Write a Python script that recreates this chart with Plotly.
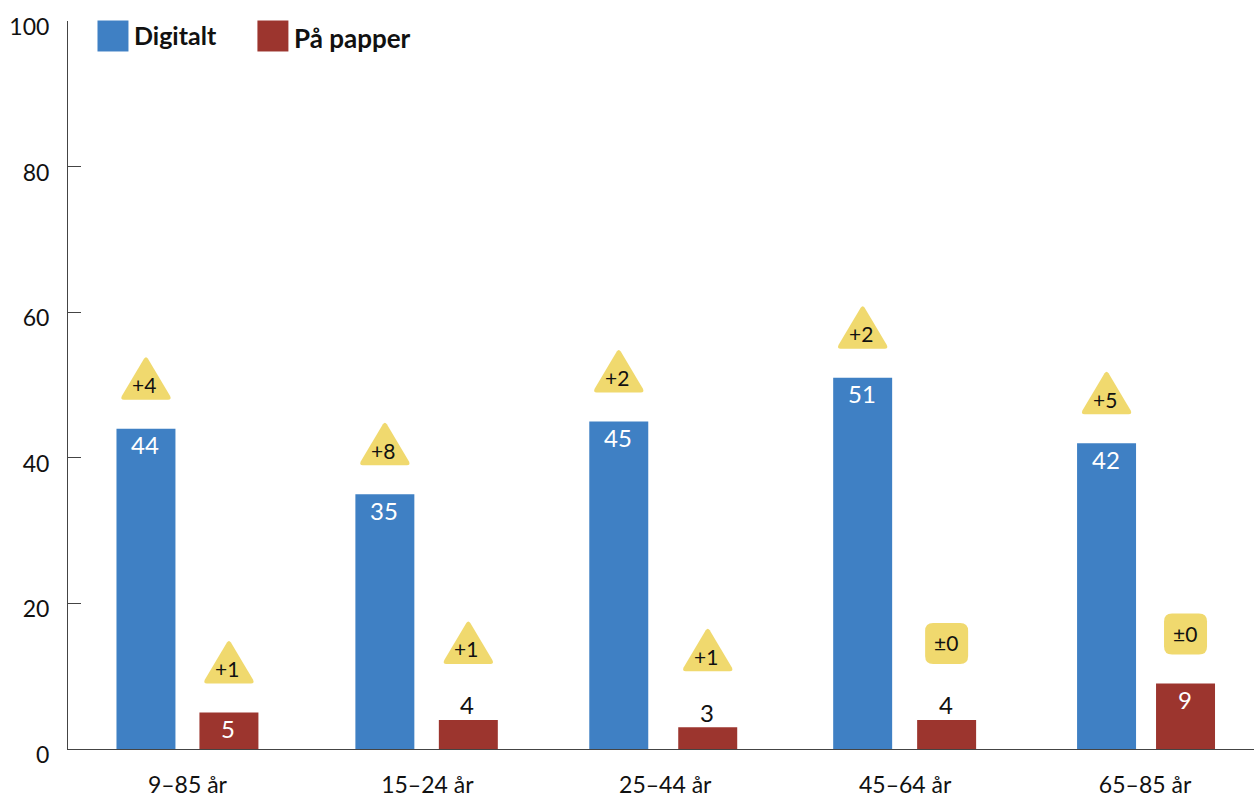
import plotly.graph_objects as go

# Survey values per age group
age_groups = ["9–85 år", "15–24 år", "25–44 år", "45–64 år", "65–85 år"]
digital = [44, 35, 45, 51, 42]
paper = [5, 4, 3, 4, 9]
digital_change = ["+4", "+8", "+2", "+2", "+5"]
paper_change = ["+1", "+1", "+1", "±0", "±0"]

# Horizontal placement along the numeric x axis
group_pos = [187, 427, 665, 905, 1145]
digital_pos = [145.5, 384.5, 618.5, 862.5, 1106.5]
paper_pos = [228.5, 468, 707.5, 946.5, 1185.5]

BLUE = "#3F80C4"
RED = "#9C352E"
YELLOW = "#F0D96E"
INK = "#111111"
AXIS = "#444444"
FONT = "Lato"
BAR_W = 59
MARGIN_T, MARGIN_B = 20.5, 49
PLOT_H = 798 - MARGIN_T - MARGIN_B

fig = go.Figure()
fig.add_bar(x=digital_pos, y=digital, width=BAR_W, marker_color=BLUE, marker_line_width=0, showlegend=False)
fig.add_bar(x=paper_pos, y=paper, width=BAR_W, marker_color=RED, marker_line_width=0, showlegend=False)

shapes = []
notes = []


def triangle_path(base, half=25, height=43, r=3):
    # Equilateral badge with softened corners; base is its pixel lift above the anchor
    return (f"M{-half + r},{base} L{half - r},{base} Q{half + 1},{base} {half - 1},{base + r + 1} "
            f"L2,{base + height - 2} Q0,{base + height + 1} -2,{base + height - 2} "
            f"L{-half + 1},{base + r + 1} Q{-half - 1},{base} {-half + r},{base} Z")


def box_path(base, half=21.5, height=41, r=8):
    # Rounded square badge; base is its pixel lift above the anchor
    top = base + height
    return (f"M{-half + r},{base} L{half - r},{base} Q{half},{base} {half},{base + r} L{half},{top - r} "
            f"Q{half},{top} {half - r},{top} L{-half + r},{top} "
            f"Q{-half},{top} {-half},{top - r} L{-half},{base + r} Q{-half},{base} {-half + r},{base} Z")


def add_column(xs, values, changes):
    for x, v, change in zip(xs, values, changes):
        inside = v >= 5
        notes.append(dict(x=x, y=v, xref="x", yref="y", text=str(v), showarrow=False,
                          xshift=-1, yshift=-16 if inside else 15,
                          font=dict(family=FONT, size=24, color="white" if inside else INK)))
        gap = 29 if inside else 56
        flat = change.startswith("±")
        shapes.append(dict(type="path", xref="x", yref="y", xsizemode="pixel", ysizemode="pixel",
                           xanchor=x, yanchor=v, path=box_path(gap) if flat else triangle_path(gap),
                           fillcolor=YELLOW, line_width=0, layer="above"))
        notes.append(dict(x=x, y=v, xref="x", yref="y", text=change, showarrow=False,
                          xshift=-0.5 if flat else -2, yshift=gap + (21 if flat else 15),
                          font=dict(family=FONT, size=21, color=INK)))


add_column(digital_pos, digital, digital_change)
add_column(paper_pos, paper, paper_change)

# Legend swatches and labels
for x0, x1, color, label, text_x, text_y, size in [
    (97, 128, BLUE, "Digitalt", 132, 35, 25),
    (257, 288, RED, "På papper", 292, 38, 26),
]:
    shapes.append(dict(type="rect", xref="x", yref="paper", x0=x0, x1=x1,
                       y0=1 + 0.5 / PLOT_H, y1=1 - 30.5 / PLOT_H,
                       fillcolor=color, line_width=0))
    notes.append(dict(x=text_x, y=1 - (text_y - MARGIN_T) / PLOT_H, xref="x", yref="paper", text=f"<b>{label}</b>",
                      xanchor="left", yanchor="middle", showarrow=False,
                      font=dict(family=FONT, size=size, color=INK)))

fig.update_layout(
    width=1254, height=798,
    margin=dict(l=67.5, r=0, t=MARGIN_T, b=MARGIN_B),
    paper_bgcolor="white", plot_bgcolor="white",
    barmode="overlay",
    shapes=shapes, annotations=notes,
    font=dict(family=FONT, color=INK),
    xaxis=dict(range=[67.5, 1254], tickvals=group_pos, ticktext=age_groups, ticks="", automargin=False,
               showgrid=False, zeroline=False, showline=True, linecolor=AXIS, linewidth=1,
               tickfont=dict(family=FONT, size=23, color=INK), ticklabelstandoff=15),
    yaxis=dict(range=[0, 100], tickvals=[0, 20, 40, 60, 80, 100], ticks="inside", ticklen=13, automargin=False,
               tickcolor=AXIS, tickwidth=1, showgrid=False, zeroline=False, showline=True,
               linecolor=AXIS, linewidth=1, ticklabelshift=6, ticklabelstandoff=13,
               tickfont=dict(family=FONT, size=23, color=INK)),
)

fig.write_html("out.html")
